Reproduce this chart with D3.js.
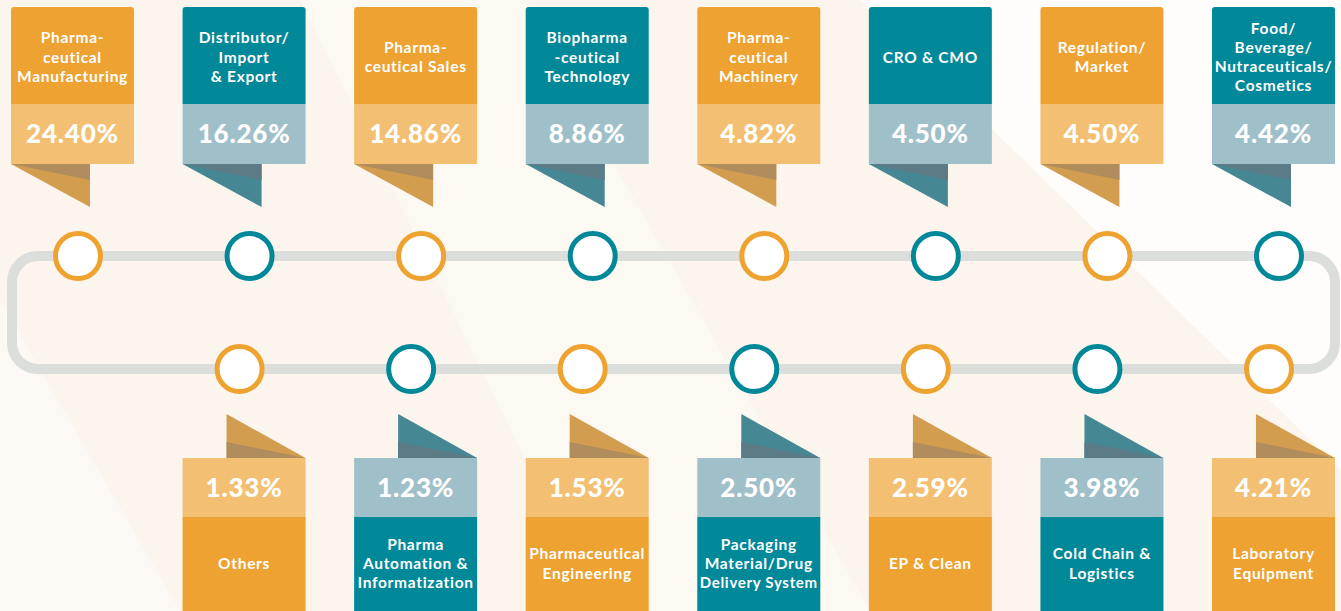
<!DOCTYPE html>
<meta charset="utf-8">
<title>Industry share</title>
<script src="https://d3js.org/d3.v7.min.js"></script>
<style>
  body { margin: 0; background: #fbf5ee; }
  svg { display: block; }
  text { font-family: Lato, "Open Sans", sans-serif; font-weight: bold; fill: #fff; }
  .val { font-weight: 900; }
</style>
<div id="chart"></div>
<script>
  // top row (above the track)
  const topLabels = [
    ["Pharma-", "ceutical", "Manufacturing"],
    ["Distributor/", "Import", "& Export"],
    ["Pharma-", "ceutical Sales"],
    ["Biopharma", "-ceutical", "Technology"],
    ["Pharma-", "ceutical", "Machinery"],
    ["CRO & CMO"],
    ["Regulation/", "Market"],
    ["Food/", "Beverage/", "Nutraceuticals/", "Cosmetics"]
  ];
  const topValues = [24.40, 16.26, 14.86, 8.86, 4.82, 4.50, 4.50, 4.42];

  // bottom row (below the track)
  const bottomLabels = [
    ["Others"],
    ["Pharma", "Automation &", "Informatization"],
    ["Pharmaceutical", "Engineering"],
    ["Packaging", "Material/Drug", "Delivery System"],
    ["EP & Clean"],
    ["Cold Chain &", "Logistics"],
    ["Laboratory", "Equipment"]
  ];
  const bottomValues = [1.33, 1.23, 1.53, 2.50, 2.59, 3.98, 4.21];

  const W = 1341, H = 611;
  const cardW = 123;

  const palette = {
    orange: { title: "#eda232", value: "#f3bf72", tail: "#d29d4e", band: "#b18d5d", ring: "#eea22f" },
    teal:   { title: "#018899", value: "#9fc0c9", tail: "#468794", band: "#5b7b86", ring: "#008898" }
  };

  const svg = d3.select("#chart").append("svg")
    .attr("width", W)
    .attr("height", H);

  // soft background wedges
  const bg = svg.append("g");
  bg.append("rect").attr("width", W).attr("height", H).attr("fill", "#fbf5ee");
  bg.append("polygon").attr("points", "860,0 1341,0 1341,470").attr("fill", "#fefdfb");
  bg.append("polygon").attr("points", "300,0 520,0 870,611 600,611").attr("fill", "#fcf8f2");
  bg.append("polygon").attr("points", "0,300 0,611 180,611").attr("fill", "#fcf8f3");

  // card slots: 8 across, bottom row uses slots 1..7
  const x = d3.scalePoint()
    .domain(d3.range(8))
    .range([11, 1212]);

  const y = {
    cardTop: 7, titleBottom: 104, valueBottom: 164, tailBottom: 207,
    trackTop: 256, trackBottom: 369,
    bTailTop: 414, bValueTop: 458, bTitleTop: 517
  };

  const fmt = d3.format(".2f");

  // track
  svg.append("rect")
    .attr("x", 12).attr("y", y.trackTop)
    .attr("width", 1335 - 12).attr("height", y.trackBottom - y.trackTop)
    .attr("rx", 26)
    .attr("fill", "none")
    .attr("stroke", "#dcdedc")
    .attr("stroke-width", 10);

  function fitText(sel, maxW) {
    sel.each(function () {
      let fs = parseFloat(this.getAttribute("font-size"));
      while (this.getComputedTextLength() > maxW && fs > 10) {
        fs -= 0.5;
        this.setAttribute("font-size", fs);
      }
    });
  }

  function titleLines(g, lines, cx, cy) {
    const lh = 19.3;
    const t = g.selectAll(".tl").data(lines).join("text")
      .attr("class", "tl")
      .attr("text-anchor", "middle")
      .attr("dominant-baseline", "central")
      .attr("font-size", 15.5)
      .attr("letter-spacing", 0.7)
      .attr("x", cx)
      .attr("y", (d, i) => cy + (i - (lines.length - 1) / 2) * lh)
      .text(d => d);
    fitText(t, cardW - 4);
  }

  function valueText(g, v, cx, cy) {
    g.append("text")
      .attr("class", "val")
      .attr("text-anchor", "middle")
      .attr("dominant-baseline", "central")
      .attr("font-size", 26)
      .attr("letter-spacing", 0.8)
      .attr("x", cx)
      .attr("y", cy)
      .text(fmt(v) + "%");
  }

  // top cards
  const topData = topValues.map((v, i) => ({ v, label: topLabels[i], i, c: i % 2 ? palette.teal : palette.orange }));
  const topCards = svg.selectAll(".top").data(topData).join("g").attr("class", "top");

  topCards.each(function (d) {
    const g = d3.select(this);
    const x0 = x(d.i), x1 = x0 + cardW, xt = x0 + 79;
    g.append("polygon")
      .attr("points", `${x0},${y.valueBottom} ${xt},${y.valueBottom} ${xt},${y.tailBottom}`)
      .attr("fill", d.c.tail);
    g.append("polygon")
      .attr("points", `${x0},${y.valueBottom} ${xt},${y.valueBottom} ${xt},${y.valueBottom + 16}`)
      .attr("fill", d.c.band);
    g.append("path")
      .attr("d", `M${x0},${y.titleBottom} V${y.cardTop + 3} Q${x0},${y.cardTop} ${x0 + 3},${y.cardTop} H${x1 - 3} Q${x1},${y.cardTop} ${x1},${y.cardTop + 3} V${y.titleBottom} Z`)
      .attr("fill", d.c.title);
    g.append("rect")
      .attr("x", x0).attr("y", y.titleBottom)
      .attr("width", cardW).attr("height", y.valueBottom - y.titleBottom)
      .attr("fill", d.c.value);
    valueText(g, d.v, x0 + cardW / 2, (y.titleBottom + y.valueBottom) / 2 - 1.5);
    titleLines(g, d.label, x0 + cardW / 2, 56.5);
    g.append("circle")
      .attr("cx", x0 + 67).attr("cy", y.trackTop)
      .attr("r", 22.5)
      .attr("fill", "#fff")
      .attr("stroke", d.c.ring)
      .attr("stroke-width", 5);
  });

  // bottom cards
  const bottomData = bottomValues.map((v, i) => ({ v, label: bottomLabels[i], i: i + 1, c: i % 2 ? palette.teal : palette.orange }));
  const bottomCards = svg.selectAll(".bottom").data(bottomData).join("g").attr("class", "bottom");

  bottomCards.each(function (d) {
    const g = d3.select(this);
    const x0 = x(d.i), x1 = x0 + cardW, xt = x0 + 44;
    g.append("polygon")
      .attr("points", `${xt},${y.bTailTop} ${xt},${y.bValueTop} ${x1},${y.bValueTop}`)
      .attr("fill", d.c.tail);
    g.append("polygon")
      .attr("points", `${xt},${y.bValueTop - 16} ${xt},${y.bValueTop} ${x1},${y.bValueTop}`)
      .attr("fill", d.c.band);
    g.append("rect")
      .attr("x", x0).attr("y", y.bValueTop)
      .attr("width", cardW).attr("height", y.bTitleTop - y.bValueTop)
      .attr("fill", d.c.value);
    g.append("rect")
      .attr("x", x0).attr("y", y.bTitleTop)
      .attr("width", cardW).attr("height", H - y.bTitleTop + 10)
      .attr("fill", d.c.title);
    valueText(g, d.v, x0 + cardW / 2, (y.bValueTop + y.bTitleTop) / 2 - 0.5);
    titleLines(g, d.label, x0 + cardW / 2, 563);
    g.append("circle")
      .attr("cx", x0 + 57).attr("cy", y.trackBottom)
      .attr("r", 22.5)
      .attr("fill", "#fff")
      .attr("stroke", d.c.ring)
      .attr("stroke-width", 5);
  });
</script>
